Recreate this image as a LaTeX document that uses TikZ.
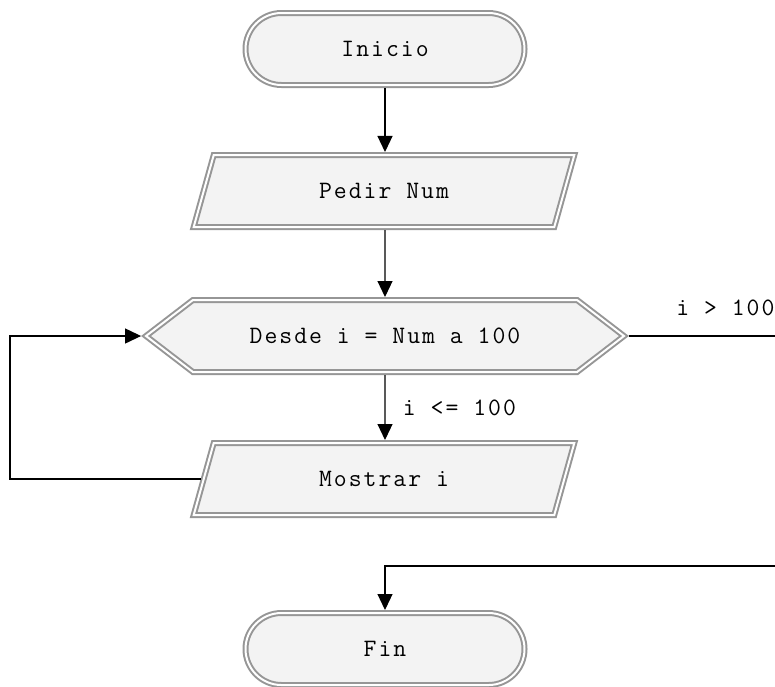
\documentclass[tikz,border=0pt]{standalone}
\usepackage{fontspec}
\setmonofont{Latin Modern Mono}[LetterSpace=8]
\usetikzlibrary{arrows.meta,shapes.geometric,shapes.symbols}
\definecolor{boxgray}{RGB}{150,150,150}
\definecolor{boxfill}{RGB}{243,243,243}

\begin{document}
\begin{tikzpicture}
    [x=1pt, y=-1pt, >={Triangle[length=16pt,width=15pt]},
    font=\ttfamily\fontsize{25}{30}\selectfont,
    box/.style={draw=boxgray, line width=2pt, double=white, double distance=2pt, fill=boxfill, outer sep=3pt},
    startend/.style={box, rectangle, rounded corners=36pt, minimum width=279pt, minimum height=72pt},
    inout/.style={box, trapezium, trapezium left angle=70, trapezium right angle=110, trapezium stretches=true, minimum width=381pt, minimum height=72pt},
    forloop/.style={box, signal, signal to=west and east, signal pointer angle=75, minimum width=478pt, minimum height=72pt},
    flow/.style={line width=1.2pt}]
    \useasboundingbox (0,0) rectangle (775,686);
    \node[startend] (inicio) at (385,49) {Inicio};
    \node[inout] (pedir) at (384,191) {Pedir Num};
    \node[forloop] (desde) at (385,336) {Desde i = Num a 100};
    \node[inout] (mostrar) at (384,479) {Mostrar i};
    \node[startend] (fin) at (385,649) {Fin};
    \coordinate (izq) at (10,0);
    \coordinate (der) at (775,566);
    \draw[flow,->] (inicio.south -| desde) -- (pedir.north -| desde);
    \draw[flow,->] (pedir.south -| desde) -- (desde);
    \draw[flow,->] (desde) -- node[right=14pt] {i <= 100} (mostrar.north -| desde);
    \draw[flow,->] (mostrar.west) -- (mostrar.west -| izq) |- (desde.west);
    \draw[flow] (desde.east) -- node[pos=1, anchor=south east, inner sep=0pt, yshift=20pt] {i > 100} (desde.east -| der);
    \draw[flow,->] (der) -| (fin);
\end{tikzpicture}
\end{document}
